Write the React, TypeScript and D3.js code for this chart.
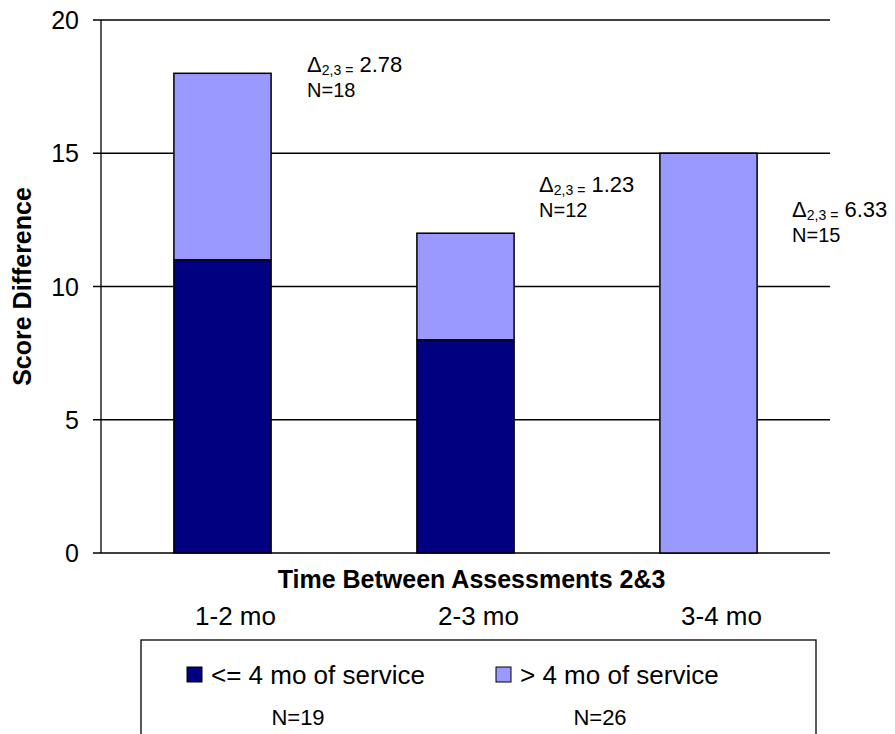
import React from "react";
import * as d3 from "d3";

const categories = ["1-2 mo", "2-3 mo", "3-4 mo"];
const shortService = [11, 8, 0];
const longService = [7, 4, 15];
const deltas = ["2.78", "1.23", "6.33"];
const groupN = ["N=18", "N=12", "N=15"];
const seriesNames = ["<= 4 mo of service", "> 4 mo of service"];
const seriesN = ["N=19", "N=26"];
const colors = ["#000080", "#9999FF"];
const yTicks = [0, 5, 10, 15, 20];

const W = 895;
const H = 734;
const margin = { top: 20, right: 65, bottom: 181, left: 101 };
const font = "Arial, 'Liberation Sans', sans-serif";

export default function App() {
  const w = W - margin.left - margin.right;
  const h = H - margin.top - margin.bottom;

  const x = d3.scaleBand().domain(categories).range([0, w]).paddingInner(0.6).paddingOuter(0.3);
  const y = d3.scaleLinear().domain([0, 20]).range([h, 0]);

  const stacked = categories.map((c, i) => ({
    cat: c,
    parts: [
      { y0: 0, y1: shortService[i], color: colors[0] },
      { y0: shortService[i], y1: shortService[i] + longService[i], color: colors[1] },
    ],
  }));

  // delta label placement next to each bar (baseline, gap from bar edge)
  const annY = [72, 192, 217];
  const annGap = [36, 25, 35];

  return (
    <svg width={W} height={H} style={{ position: "absolute", left: 0, top: 0 }} fontFamily={font}>
      <rect width={W} height={H} fill="#fff" />
      <g transform={`translate(${margin.left},${margin.top})`}>
        {yTicks.map((t) => (
          <g key={t}>
            <line x1={-8} x2={w} y1={y(t)} y2={y(t)} stroke="#000" strokeWidth={1.3} />
            <text x={-22} y={y(t)} dy="0.36em" textAnchor="end" fontSize={25}>
              {t}
            </text>
          </g>
        ))}
        <line x1={0} x2={0} y1={0} y2={h} stroke="#000" strokeWidth={1.3} />
        {stacked.map((s) =>
          s.parts
            .filter((p) => p.y1 > p.y0)
            .map((p, j) => (
              <rect
                key={s.cat + j}
                x={x(s.cat)}
                width={x.bandwidth()}
                y={y(p.y1)}
                height={y(p.y0) - y(p.y1)}
                fill={p.color}
                stroke="#000"
                strokeWidth={1.5}
              />
            ))
        )}
        {categories.map((c, i) => {
          const ax = (x(c) as number) + x.bandwidth() + annGap[i];
          const ay = annY[i] - margin.top;
          return (
            <g key={c}>
              <text x={ax} y={ay} fontSize={22}>
                Δ
                <tspan fontSize={14} dy={3}>2,3 =</tspan>
                <tspan fontSize={22} dy={-3}> {deltas[i]}</tspan>
              </text>
              <text x={ax} y={ay + 25} fontSize={20}>
                {groupN[i]}
              </text>
            </g>
          );
        })}
        <text x={w / 2 + 6} y={h + 35} textAnchor="middle" fontSize={25} fontWeight="bold">
          Time Between Assessments 2&amp;3
        </text>
        {categories.map((c) => (
          <text key={c} x={(x(c) as number) + x.bandwidth() / 2 + 13} y={h + 72} textAnchor="middle" fontSize={26}>
            {c}
          </text>
        ))}
      </g>
      <text
        transform={`translate(31,${margin.top + h / 2}) rotate(-90)`}
        textAnchor="middle"
        fontSize={25}
        fontWeight="bold"
      >
        Score Difference
      </text>
      <rect x={141} y={640} width={675} height={110} fill="#fff" stroke="#000" strokeWidth={1.3} />
      {seriesNames.map((n, i) => {
        const lx = 187 + i * 309;
        return (
          <g key={n}>
            <rect x={lx} y={667} width={15} height={15} fill={colors[i]} stroke="#000" strokeWidth={1} />
            <text x={lx + 24} y={684} fontSize={26}>
              {n}
            </text>
            <text x={lx + 111 - i * 7} y={725} textAnchor="middle" fontSize={22}>
              {seriesN[i]}
            </text>
          </g>
        );
      })}
    </svg>
  );
}
